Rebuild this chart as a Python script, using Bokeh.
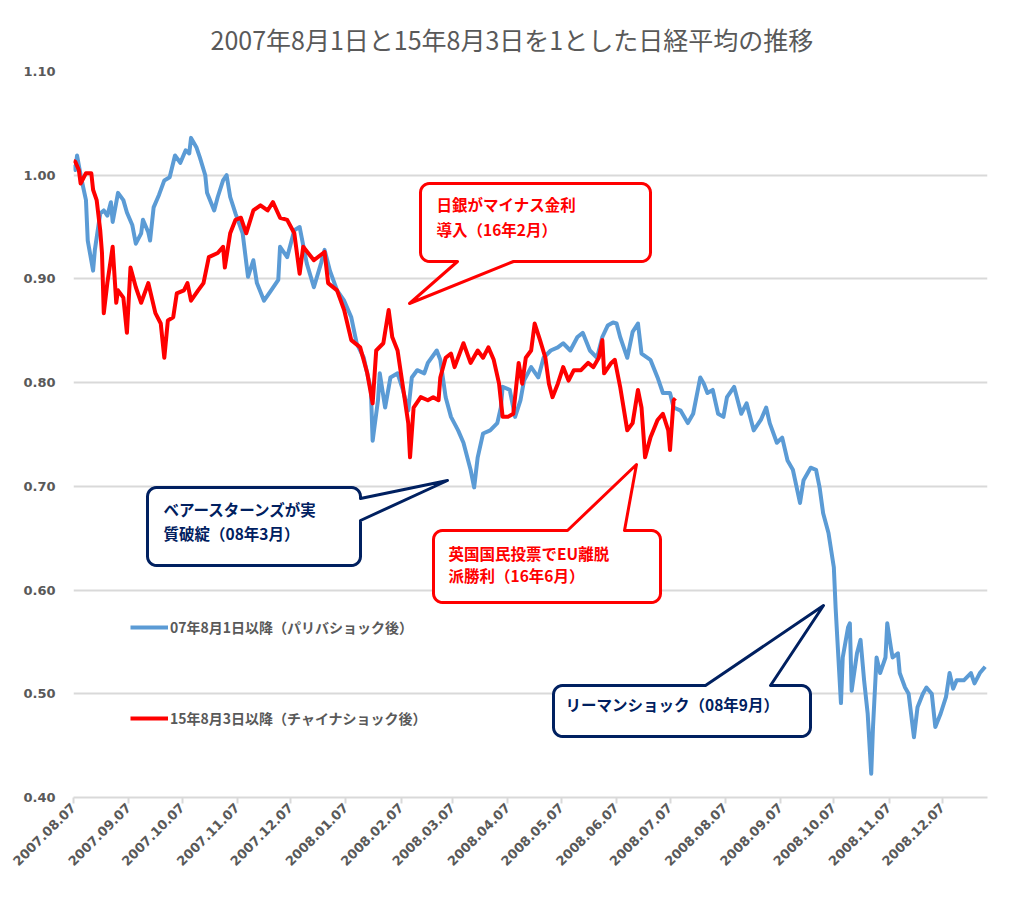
import datetime as dt
import math
import numpy as np
from bokeh.plotting import figure
from bokeh.models import (Range1d, FixedTicker, DatetimeTickFormatter, Legend,
                          LegendItem, NumeralTickFormatter)
from bokeh.core.properties import value
from bokeh.embed import file_html
from bokeh.resources import INLINE

# ---------------- data ----------------
START = dt.datetime(2007, 8, 7)   # first category label on the axis

title_text = "2007年8月1日と15年8月3日を1とした日経平均の推移"
blue_label = "07年8月1日以降（パリバショック後）"
red_label = "15年8月3日以降（チャイナショック後）"

# calendar days since START, and index value (start = 1)
blue_days = [0, 1, 2, 4, 7, 8, 11, 12, 15, 17,
             19, 21, 22, 25, 28, 30, 33, 35, 38, 39,
             42, 43, 45, 48, 51, 54, 57, 60, 63, 65,
             66, 69, 71, 74, 75, 79, 81, 84, 86, 88,
             91, 95, 98, 101, 103, 107, 111, 115, 116, 120,
             124, 127, 131, 135, 139, 141, 144, 148, 152, 156,
             159, 163, 167, 168, 171, 172, 175, 178, 182, 185,
             188, 190, 193, 197, 199, 204, 206, 209, 212, 216,
             219, 223, 225, 227, 230, 234, 238, 240, 241, 245,
             248, 251, 253, 257, 261, 264, 268, 272, 275, 279,
             283, 286, 290, 294, 297, 300, 303, 305, 307, 309,
             311, 314, 317, 319, 324, 328, 331, 335, 337, 341,
             345, 348, 352, 354, 356, 359, 362, 365, 367, 371,
             375, 378, 382, 386, 389, 391, 395, 398, 401, 404,
             408, 410, 414, 417, 419, 421, 424, 427, 428, 429,
             431, 432, 435, 436, 437, 440, 442, 444, 446, 448,
             449, 451, 453, 456, 457, 459, 460, 463, 464, 467,
             469, 472, 474, 477, 479, 482, 484, 487, 490, 492,
             494, 496, 500, 504, 506, 509, 512]
blue_vals = [1.010, 1.005, 1.019, 1.000, 0.976, 0.937, 0.908, 0.928, 0.963, 0.966,
             0.961, 0.974, 0.955, 0.983, 0.976, 0.964, 0.952, 0.934, 0.944, 0.957,
             0.945, 0.937, 0.969, 0.981, 0.995, 0.998, 1.019, 1.012, 1.024, 1.021,
             1.036, 1.027, 1.017, 1.000, 0.983, 0.966, 0.979, 0.995, 1.000, 0.979,
             0.963, 0.944, 0.902, 0.918, 0.896, 0.879, 0.889, 0.899, 0.931, 0.921,
             0.947, 0.950, 0.915, 0.892, 0.915, 0.928, 0.908, 0.889, 0.879, 0.863,
             0.838, 0.824, 0.793, 0.744, 0.783, 0.809, 0.776, 0.805, 0.809, 0.793,
             0.773, 0.805, 0.812, 0.809, 0.819, 0.831, 0.822, 0.786, 0.767, 0.754,
             0.742, 0.716, 0.699, 0.728, 0.751, 0.754, 0.761, 0.776, 0.796, 0.793,
             0.767, 0.783, 0.802, 0.815, 0.805, 0.824, 0.831, 0.834, 0.838, 0.831,
             0.844, 0.848, 0.831, 0.824, 0.844, 0.855, 0.858, 0.857, 0.844, 0.834,
             0.824, 0.849, 0.857, 0.828, 0.822, 0.805, 0.790, 0.790, 0.776, 0.773,
             0.761, 0.770, 0.805, 0.799, 0.790, 0.793, 0.770, 0.767, 0.786, 0.796,
             0.770, 0.780, 0.754, 0.764, 0.776, 0.761, 0.742, 0.747, 0.725, 0.716,
             0.684, 0.706, 0.718, 0.716, 0.699, 0.674, 0.655, 0.622, 0.583, 0.552,
             0.491, 0.535, 0.564, 0.568, 0.503, 0.539, 0.552, 0.513, 0.481, 0.423,
             0.468, 0.535, 0.520, 0.535, 0.568, 0.545, 0.535, 0.539, 0.520, 0.506,
             0.500, 0.458, 0.487, 0.500, 0.506, 0.500, 0.468, 0.481, 0.497, 0.520,
             0.505, 0.513, 0.513, 0.520, 0.510, 0.520, 0.526]

red_days = [0, 1, 3, 4, 7, 10, 11, 13, 15, 16,
            17, 19, 22, 24, 25, 28, 30, 32, 35, 38,
            42, 46, 49, 51, 53, 56, 58, 62, 64, 66,
            70, 73, 76, 81, 84, 85, 88, 91, 94, 97,
            101, 105, 109, 112, 116, 120, 124, 127, 129, 135,
            141, 143, 148, 152, 156, 161, 165, 168, 170, 174,
            177, 179, 182, 185, 188, 189, 191, 195, 199, 202,
            205, 206, 209, 212, 214, 219, 223, 227, 230, 233,
            236, 239, 241, 244, 247, 250, 252, 254, 257, 259,
            262, 265, 267, 269, 272, 275, 278, 281, 285, 289,
            292, 295, 297, 298, 302, 304, 307, 311, 314, 317,
            319, 321, 324, 328, 331, 334, 335, 337, 338]
red_vals = [1.014, 1.013, 1.005, 0.992, 1.002, 1.002, 0.986, 0.976, 0.947, 0.925,
            0.867, 0.896, 0.931, 0.877, 0.889, 0.882, 0.848, 0.911, 0.892, 0.877,
            0.896, 0.867, 0.857, 0.824, 0.860, 0.863, 0.886, 0.889, 0.896, 0.879,
            0.889, 0.896, 0.921, 0.925, 0.931, 0.911, 0.944, 0.957, 0.959, 0.944,
            0.966, 0.971, 0.966, 0.974, 0.959, 0.957, 0.944, 0.905, 0.931, 0.918,
            0.926, 0.896, 0.889, 0.870, 0.841, 0.834, 0.809, 0.780, 0.831, 0.838,
            0.870, 0.844, 0.831, 0.796, 0.761, 0.728, 0.776, 0.786, 0.783, 0.786,
            0.783, 0.805, 0.824, 0.828, 0.815, 0.838, 0.819, 0.831, 0.824, 0.834,
            0.822, 0.799, 0.767, 0.767, 0.770, 0.819, 0.799, 0.824, 0.831, 0.857,
            0.841, 0.824, 0.799, 0.786, 0.799, 0.815, 0.802, 0.812, 0.812, 0.819,
            0.815, 0.824, 0.841, 0.809, 0.819, 0.822, 0.796, 0.754, 0.761, 0.793,
            0.776, 0.728, 0.747, 0.764, 0.770, 0.754, 0.735, 0.783, 0.785]

x_tick_labels = ["2007.08.07", "2007.09.07", "2007.10.07", "2007.11.07", "2007.12.07",
                 "2008.01.07", "2008.02.07", "2008.03.07", "2008.04.07", "2008.05.07",
                 "2008.06.07", "2008.07.07", "2008.08.07", "2008.09.07", "2008.10.07",
                 "2008.11.07", "2008.12.07"]
y_ticks = [0.40, 0.50, 0.60, 0.70, 0.80, 0.90, 1.00, 1.10]

callout_texts = {
    "boj": ["日銀がマイナス金利", "導入（16年2月）"],
    "bear": ["ベアースターンズが実", "質破綻（08年3月）"],
    "brexit": ["英国国民投票でEU離脱", "派勝利（16年6月）"],
    "lehman": ["リーマンショック（08年9月）"],
}

# ---------------- helpers ----------------
EPOCH = dt.datetime(1970, 1, 1)
DAY_MS = 86400000.0


def to_ms(d):
    return (d - EPOCH).total_seconds() * 1000.0


blue_x = [START + dt.timedelta(days=d) for d in blue_days]
red_x = [START + dt.timedelta(days=d) for d in red_days]
tick_dates = [dt.datetime.strptime(s, "%Y.%m.%d") for s in x_tick_labels]

FRAME_W, FRAME_H = 914, 726
X_SPAN_DAYS = 513.3
x_start_ms = to_ms(START)
x_end_ms = x_start_ms + X_SPAN_DAYS * DAY_MS
Y0, Y1 = 0.40, 1.10


def fx(px):
    return x_start_ms + px / FRAME_W * (x_end_ms - x_start_ms)


def fy(py):
    return Y1 - py / FRAME_H * (Y1 - Y0)


LEFT, TOP = 73, 71  # frame origin in page pixels


def bubble(l, t, r, b, side, b1, b2, tip, rad=9):
    def arc(cx, cy, a0, a1, n=7):
        return [(cx + rad * math.cos(a), cy + rad * math.sin(a))
                for a in np.linspace(a0, a1, n)]
    pts = arc(l + rad, t + rad, math.pi, 1.5 * math.pi)
    if side == "top":
        pts += [(b1, t), tip, (b2, t)]
    pts += arc(r - rad, t + rad, 1.5 * math.pi, 2 * math.pi)
    if side == "right":
        pts += [(r, b1), tip, (r, b2)]
    pts += arc(r - rad, b - rad, 0, 0.5 * math.pi)
    if side == "bottom":
        pts += [(b2, b), tip, (b1, b)]
    pts += arc(l + rad, b - rad, 0.5 * math.pi, math.pi)
    xs = [fx(px - LEFT) for px, _ in pts]
    ys = [fy(py - TOP) for _, py in pts]
    return xs, ys


# ---------------- figure ----------------
GRAY = "#595959"
NAVY = "#002060"
RED = "#FF0000"
BLUE = "#5B9BD5"
JP = "Noto Sans CJK JP"

p = figure(width=1016, height=914, x_axis_type="datetime",
           output_backend="svg", toolbar_location=None,
           x_range=Range1d(x_start_ms, x_end_ms), y_range=Range1d(Y0, Y1),
           min_border_left=73, min_border_right=29,
           min_border_top=71, min_border_bottom=117,
           title=title_text)
p.outline_line_color = None
p.background_fill_color = "white"
p.border_fill_color = "white"

p.title.align = "left"
p.title.vertical_align = "top"
p.title.text_font = JP
p.title.text_font_size = "25px"
p.title.text_font_style = "normal"
p.title.text_color = GRAY
p.title.offset = 137
p.title.standoff = 26

# y axis
p.yaxis.ticker = FixedTicker(ticks=y_ticks)
p.yaxis.formatter = NumeralTickFormatter(format="0.00")
p.yaxis.axis_line_color = None
p.yaxis.major_tick_line_color = None
p.yaxis.minor_tick_line_color = None
p.yaxis.major_label_text_font = "DejaVu Sans"
p.yaxis.major_label_text_font_style = "bold"
p.yaxis.major_label_text_font_size = "13px"
p.yaxis.major_label_text_color = GRAY
p.yaxis.major_label_standoff = 12

p.ygrid.ticker = FixedTicker(ticks=y_ticks)
p.ygrid.grid_line_color = "#D9D9D9"
p.ygrid.grid_line_width = 2
p.xgrid.grid_line_color = None

# x axis
p.xaxis.ticker = FixedTicker(ticks=[to_ms(d) for d in tick_dates])
fmt = "%Y.%m.%d"
p.xaxis.formatter = DatetimeTickFormatter(
    microseconds=fmt, milliseconds=fmt, seconds=fmt, minsec=fmt, minutes=fmt,
    hourmin=fmt, hours=fmt, days=fmt, months=fmt, years=fmt)
p.xaxis.major_label_orientation = math.pi / 4
p.xaxis.axis_line_color = "#D9D9D9"
p.xaxis.axis_line_width = 2
p.xaxis.major_tick_line_color = "#D9D9D9"
p.xaxis.major_tick_line_width = 2
p.xaxis.major_tick_out = 6
p.xaxis.major_tick_in = 0
p.xaxis.minor_tick_line_color = None
p.xaxis.major_label_text_font = "DejaVu Sans"
p.xaxis.major_label_text_font_style = "bold"
p.xaxis.major_label_text_font_size = "13px"
p.xaxis.major_label_text_color = GRAY
p.xaxis.major_label_standoff = 2

# series
r_blue = p.line(blue_x, blue_vals, line_color=BLUE, line_width=4, line_join="round")
r_red = p.line(red_x, red_vals, line_color=RED, line_width=4, line_join="round")

# legends
for label, rend, loc in [(blue_label, r_blue, (57, 160)), (red_label, r_red, (57, 69))]:
    lg = Legend(items=[LegendItem(label=label, renderers=[rend])], location=loc,
                padding=0, margin=0, spacing=0, glyph_width=38, glyph_height=20,
                label_standoff=2, label_height=20,
                label_text_font=JP, label_text_font_style="bold",
                label_text_font_size="14px", label_text_color=GRAY,
                border_line_color=None, background_fill_alpha=0)
    p.add_layout(lg)

# callouts (page pixel geometry)
callouts = [
    ("boj", RED, (420, 183, 650, 261, "bottom", 457, 513, (409, 303)), [(436, 203), (436, 228)]),
    ("bear", NAVY, (147, 487, 360, 565, "right", 498, 520, (447, 480)), [(163, 508), (163, 532)]),
    ("brexit", RED, (433, 530, 660, 602, "top", 567, 624, (636, 464)), [(448, 552), (448, 574)]),
    ("lehman", NAVY, (553, 685, 810, 736, "top", 705, 770, (823, 605)), [(565, 703)]),
]
for key, col, geom, tpos in callouts:
    l, t, r, b, side, b1, b2, tip = geom
    xs, ys = bubble(l, t, r, b, side, b1, b2, tip)
    p.patch(xs, ys, fill_color="white", line_color=col, line_width=3, line_join="round")
    lines = callout_texts[key]
    p.text(x=[fx(px - LEFT) for px, _ in tpos], y=[fy(py - TOP) for _, py in tpos],
           text=lines, text_font=value(JP), text_font_style="bold",
           text_font_size="15.5px", text_color=col, text_baseline="middle",
           text_align="left")

open("out.html", "w").write(file_html(p, INLINE))
